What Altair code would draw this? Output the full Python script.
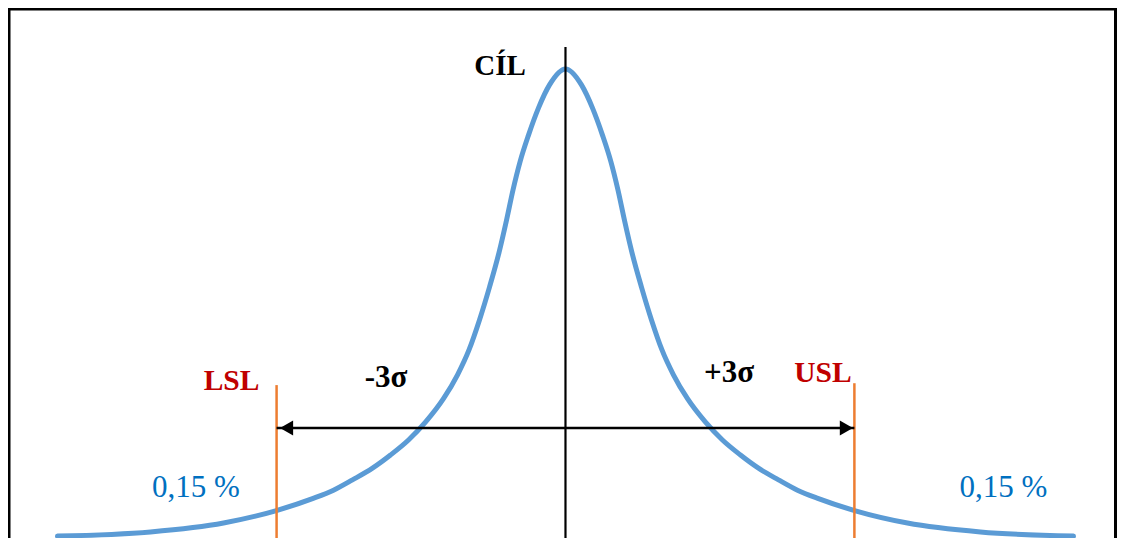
import altair as alt
import pandas as pd

# ---- data ----
# curve: x in sigma units from the target, y = relative height (peak = 1)
curve_x = [-5.275, -4.309, -3.551, -3.011, -2.627, -2.409, -2.212, -2.004, -1.817,
           -1.630, -1.454, -1.267, -1.121, -1.002, -0.893, -0.789, -0.691, -0.613,
           -0.545, -0.472, -0.384, -0.280, -0.166, 0.0,
           0.166, 0.280, 0.384, 0.472, 0.545, 0.613, 0.691, 0.789, 0.893, 1.002,
           1.121, 1.267, 1.454, 1.630, 1.817, 2.004, 2.212, 2.409, 2.627, 3.011,
           3.551, 4.309, 5.275]
curve_y = [0.004, 0.013, 0.032, 0.058, 0.084, 0.102, 0.124, 0.149, 0.177,
           0.209, 0.247, 0.297, 0.348, 0.401, 0.465, 0.535, 0.608, 0.677,
           0.742, 0.802, 0.859, 0.917, 0.966, 1.000,
           0.966, 0.917, 0.859, 0.802, 0.742, 0.677, 0.608, 0.535, 0.465, 0.401,
           0.348, 0.297, 0.247, 0.209, 0.177, 0.149, 0.124, 0.102, 0.084, 0.058,
           0.032, 0.013, 0.004]

target_x = [0.0]
target_top = [1.047]

spec_x = [-3.0, 3.0]
spec_top = [0.326, 0.330]

arrow_y = [0.2345]

bold_labels = ["CÍL"]
bold_x = [-0.680]
bold_y = [0.987]

sigma_labels = ["-3σ", "+3σ"]
sigma_x = [-1.864, 1.698]
sigma_y = [0.322, 0.333]

limit_labels = ["LSL", "USL"]
limit_lx = [-3.468, 2.674]
limit_ly = [0.316, 0.333]

tail_labels = ["0,15 %", "0,15 %"]
tail_x = [-3.837, 4.548]
tail_y = [0.0874, 0.0874]

X_DOMAIN = [-5.789, 5.727]
Y_DOMAIN = [0.0, 1.130]
W, H = 1109, 530

FONT = "Liberation Serif"


def X(field="x"):
    return alt.X(f"{field}:Q", scale=alt.Scale(domain=X_DOMAIN, nice=False, zero=False), axis=None)


def Y(field="y"):
    return alt.Y(f"{field}:Q", scale=alt.Scale(domain=Y_DOMAIN, nice=False, zero=False), axis=None)


dummy = pd.DataFrame({"k": [0]})

frame_top = alt.Chart(dummy).mark_rule(color="black", strokeWidth=3).encode(
    x=alt.value(0), x2=alt.value(W), y=alt.value(1))
frame_left = alt.Chart(dummy).mark_rule(color="black", strokeWidth=3).encode(
    x=alt.value(1), y=alt.value(0), y2=alt.value(H))
frame_right = alt.Chart(dummy).mark_rule(color="black", strokeWidth=3).encode(
    x=alt.value(W - 1.5), y=alt.value(0), y2=alt.value(H))

curve_df = pd.DataFrame({"x": curve_x, "y": curve_y, "o": list(range(len(curve_x)))})
curve = alt.Chart(curve_df).mark_line(
    color="#5B9BD5", strokeWidth=5, interpolate="monotone", strokeCap="round"
).encode(x=X(), y=Y(), order="o:Q")

center_df = pd.DataFrame({"x": target_x, "y0": [0.0], "y1": target_top})
center = alt.Chart(center_df).mark_rule(color="black", strokeWidth=2.2).encode(
    x=X(), y=Y("y0"), y2="y1:Q")

spec_df = pd.DataFrame({"x": spec_x, "y0": [0.0, 0.0], "y1": spec_top})
spec = alt.Chart(spec_df).mark_rule(color="#ED7D31", strokeWidth=2.5).encode(
    x=X(), y=Y("y0"), y2="y1:Q")

arrow_df = pd.DataFrame({"x": [spec_x[0]], "x2": [spec_x[1]], "y": arrow_y})
shaft = alt.Chart(arrow_df).mark_rule(color="black", strokeWidth=2.5).encode(
    x=X(), x2="x2:Q", y=Y())

head_l = alt.Chart(pd.DataFrame({"x": [spec_x[0]], "y": arrow_y})).mark_point(
    shape="triangle-left", filled=True, color="black", opacity=1, size=230, xOffset=10
).encode(x=X(), y=Y())
head_r = alt.Chart(pd.DataFrame({"x": [spec_x[1]], "y": arrow_y})).mark_point(
    shape="triangle-right", filled=True, color="black", opacity=1, size=230, xOffset=-8
).encode(x=X(), y=Y())

bold_df = pd.DataFrame({"t": bold_labels, "x": bold_x, "y": bold_y})
bold = alt.Chart(bold_df).mark_text(
    font=FONT, fontSize=29, fontWeight="bold", color="black", align="center", baseline="alphabetic"
).encode(x=X(), y=Y(), text="t:N")

sig_df = pd.DataFrame({"t": sigma_labels, "x": sigma_x, "y": sigma_y})
sig = alt.Chart(sig_df).mark_text(
    font=FONT, fontSize=31, fontWeight="bold", color="black", align="center", baseline="alphabetic"
).encode(x=X(), y=Y(), text="t:N")

lim_df = pd.DataFrame({"t": limit_labels, "x": limit_lx, "y": limit_ly})
lim = alt.Chart(lim_df).mark_text(
    font=FONT, fontSize=29.5, fontWeight="bold", color="#C00000", align="center", baseline="alphabetic"
).encode(x=X(), y=Y(), text="t:N")

tail_df = pd.DataFrame({"t": tail_labels, "x": tail_x, "y": tail_y})
tail = alt.Chart(tail_df).mark_text(
    font=FONT, fontSize=31, color="#0070C0", align="center", baseline="alphabetic"
).encode(x=X(), y=Y(), text="t:N")

chart = alt.layer(
    frame_top, frame_left, frame_right, curve, center, spec, shaft, head_l, head_r,
    bold, sig, lim, tail
).properties(
    width=W, height=H, autosize=alt.AutoSizeParams(type="none"), padding=0, background="white"
).configure_view(stroke=None)

chart.save("out.html", embed_options={"renderer": "svg", "actions": False})
